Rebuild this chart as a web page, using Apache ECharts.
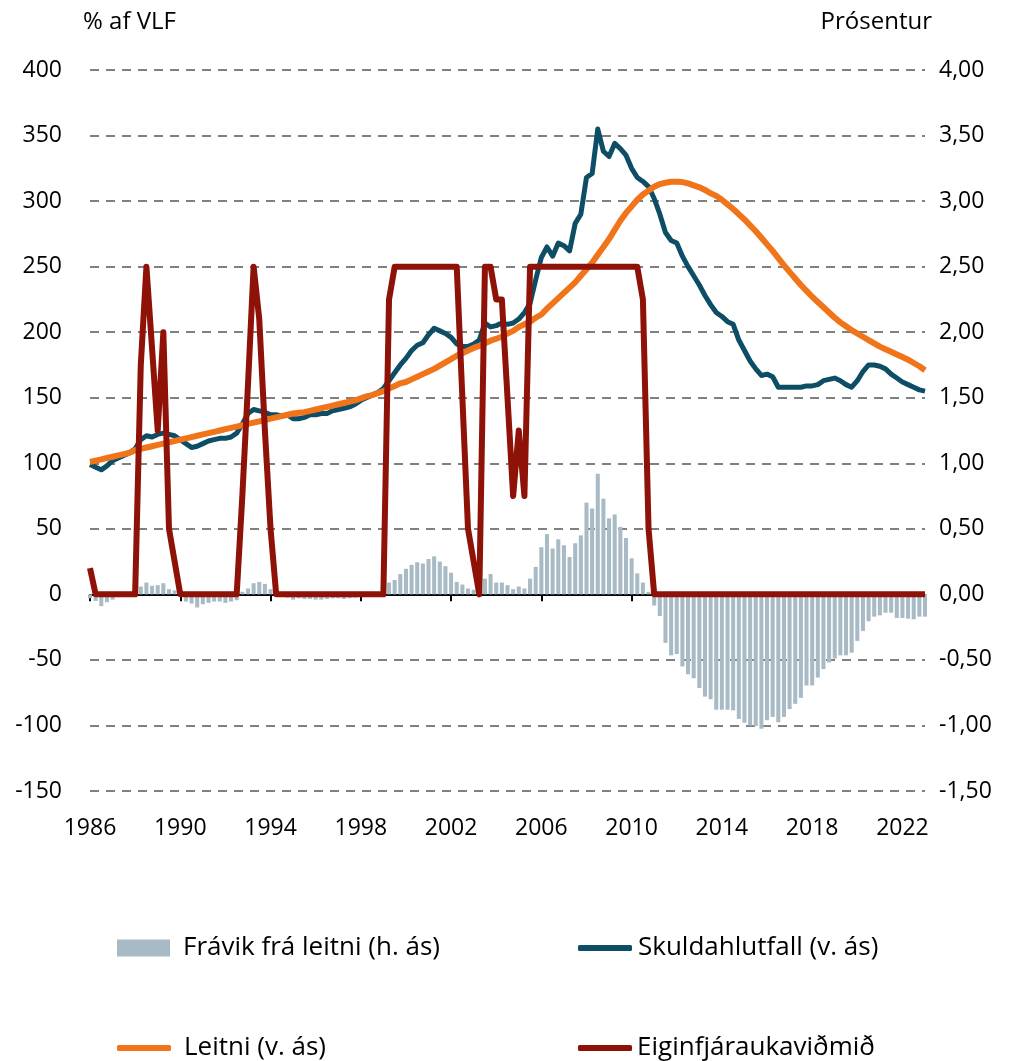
<!DOCTYPE html>
<html>
<head>
<meta charset="utf-8">
<script src="https://cdn.jsdelivr.net/npm/echarts@6/dist/echarts.min.js"></script>
<style>
html,body{margin:0;padding:0;background:#fff;}
#c{width:1017px;height:1061px;}
</style>
</head>
<body>
<div id="c"></div>
<script>
// Quarterly categories 1986Q1 .. 2023Q1
const categories = [];
for (let y = 1986; y <= 2023; y++) { for (let q = 1; q <= 4; q++) { if (categories.length < 149) categories.push(y + 'Q' + q); } }

const yearTickLabels = ['1986','1990','1994','1998','2002','2006','2010','2014','2018','2022'];

// Frávik frá leitni (deviation from trend)
const deviation = [
 -3, -5, -9, -6, -4, -1, 0.5, 2, 4, 6,
 9, 6.5, 7, 8.5, 4, 3, -1, -5.5, -7, -10,
 -7.5, -6.5, -5.5, -5.5, -6.5, -5.5, -4.5, 2, 4.5, 8.5,
 9.5, 8, 4, 1.5, -1, -2.5, -4, -3, -3.5, -3.5,
 -4, -4, -3.5, -3, -3, -3.5, -3, -2.5, -2, -1,
 0.5, 1.5, 3, 9, 11, 15.5, 19.5, 22.5, 24.5, 23.5,
 27, 29, 25, 21.5, 16.5, 9.5, 7.5, 4.5, 3.5, 3,
 12, 15.5, 9, 9, 7, 4, 6, 4.5, 12, 21,
 36, 46, 35, 42, 37.5, 28.5, 39, 45, 70, 65.5,
 92, 73, 58, 61, 51.5, 43, 27.5, 16, 9, 2,
 -8.5, -16.5, -37, -46.5, -45.5, -55, -61, -64, -71.5, -78,
 -80, -88, -88, -88, -88.5, -95, -98, -100, -100.5, -102.5,
 -96, -93.5, -97.5, -93.5, -87.5, -83.5, -79, -69.5, -69.5, -63.5,
 -57, -52, -49, -46.5, -46.5, -44.5, -35.5, -28, -20.5, -17,
 -16, -14, -14, -18, -18, -18.5, -19, -17, -17
];

// Skuldahlutfall (debt ratio, % of GDP)
const debtRatio = [
 99, 97, 95, 98, 102, 104, 106, 108, 111, 118,
 121, 120, 122, 123, 122, 121, 118, 115, 112, 113,
 115, 117, 118, 119, 119, 120, 123, 130, 138, 141,
 140, 139, 137, 137, 136, 137, 134, 134, 135, 137,
 137, 138, 138, 140, 141, 142, 143, 145, 148, 150,
 152, 154, 157, 163, 169, 175, 180, 186, 190, 192,
 198, 203, 201, 199, 196, 191, 189, 189, 191, 194,
 207, 204, 205, 207, 206, 207, 210, 215, 222, 240,
 257, 265, 258, 268, 266, 262, 283, 290, 318, 321,
 355, 338, 334, 344, 340, 335, 325, 318, 315, 311,
 302, 290, 276, 270, 268, 258, 250, 243, 236, 228,
 221, 215, 212, 208, 206, 194, 186, 178, 172, 167,
 168, 166, 158, 158, 158, 158, 158, 159, 159, 160,
 163, 164, 165, 163, 160, 158, 163, 170, 175, 175,
 174, 172, 168, 165, 162, 160, 158, 156, 155
];

// Leitni (trend)
const trend = [
 101, 102, 103, 104, 105, 106, 107, 108, 110, 111,
 112, 113, 114, 115, 116, 117, 118, 119, 120, 121,
 122, 123, 124, 125, 126, 127, 128, 129, 130, 131,
 132, 133, 134, 135, 136, 137, 138, 138.5, 139, 140,
 141, 142, 143, 144, 145, 146, 147, 148, 149.5, 151,
 152, 153.5, 155, 157, 159, 161, 162, 164, 166, 168,
 170, 172, 174.5, 177, 179.5, 182, 184, 186, 188, 189.5,
 191.5, 193.5, 195, 196.5, 199, 201, 204, 206, 208, 211,
 213.5, 218, 222, 226, 230, 234, 238, 243, 248, 253,
 259, 265, 271, 278, 285, 291, 296, 301, 305, 308,
 311, 313, 314, 314.8, 314.8, 314.5, 313.5, 312, 310.5, 308.5,
 306, 304, 301, 297.5, 294, 290, 286, 281.5, 277, 272,
 267, 262, 256.5, 251, 246, 241, 236, 231.5, 227, 223,
 219, 215, 211, 207.5, 204.5, 201.5, 199, 196.5, 194, 191.5,
 189, 187, 185, 183, 181, 179, 176.5, 174, 171
];

// Eiginfjáraukaviðmið (buffer guide, %)
const bufferGuide = [
 0.2, 0, 0, 0, 0, 0, 0, 0, 0, 1.75,
 2.5, 1.875, 1.25, 2.0, 0.5, 0.25, 0, 0, 0, 0,
 0, 0, 0, 0, 0, 0, 0, 0.75, 1.6, 2.5,
 2.1, 1.25, 0.5, 0, 0, 0, 0, 0, 0, 0,
 0, 0, 0, 0, 0, 0, 0, 0, 0, 0,
 0, 0, 0, 2.25, 2.5, 2.5, 2.5, 2.5, 2.5, 2.5,
 2.5, 2.5, 2.5, 2.5, 2.5, 2.5, 1.5, 0.5, 0.25, 0,
 2.5, 2.5, 2.25, 2.25, 1.5, 0.75, 1.25, 0.75, 2.5, 2.5,
 2.5, 2.5, 2.5, 2.5, 2.5, 2.5, 2.5, 2.5, 2.5, 2.5,
 2.5, 2.5, 2.5, 2.5, 2.5, 2.5, 2.5, 2.5, 2.25, 0.5,
 0, 0, 0, 0, 0, 0, 0, 0, 0, 0,
 0, 0, 0, 0, 0, 0, 0, 0, 0, 0,
 0, 0, 0, 0, 0, 0, 0, 0, 0, 0,
 0, 0, 0, 0, 0, 0, 0, 0, 0, 0,
 0, 0, 0, 0, 0, 0, 0, 0, 0
];

const FONT = "'Open Sans', sans-serif";
const FS = 23;      // tick labels
const FS_LEG = 26;  // legend
const FS_TITLE = 24;
const names = ['Frávik frá leitni (h. ás)', 'Skuldahlutfall (v. ás)', 'Leitni (v. ás)', 'Eiginfjáraukaviðmið'];
const colors = { bar: '#a8bbc5', debt: '#0d4d66', trend: '#f07419', buffer: '#8e1208' };

const isYearTick = (i) => i % 16 === 0;

const chart = echarts.init(document.getElementById('c'), null, { renderer: 'canvas' });

const legendBase = (name, left, top, icon, iw, ih, gap) => ({
  data: [name], left: left, top: top, orient: 'horizontal', padding: 0,
  itemWidth: iw, itemHeight: ih, icon: icon,
  textStyle: { fontSize: FS_LEG, color: '#000', fontFamily: FONT, padding: [0, 0, 0, gap] },
  selectedMode: false
});

const option = {
  animation: false,
  backgroundColor: '#fff',
  textStyle: { fontFamily: FONT },
  grid: { left: 90, right: 92, top: 70, bottom: 270, containLabel: false },
  graphic: [
    { type: 'text', left: 83, top: 10, style: { text: '% af VLF', fontSize: FS_TITLE, fill: '#000', fontFamily: FONT } },
    { type: 'text', right: 85, top: 10, style: { text: 'Prósentur', fontSize: FS_TITLE, fill: '#000', fontFamily: FONT } }
  ],
  legend: [
    legendBase(names[0], 117, 935, 'rect', 53, 17, 8),
    legendBase(names[1], 578, 935, 'roundRect', 54, 6, 1),
    legendBase(names[2], 117, 1035, 'roundRect', 54, 6, 8),
    legendBase(names[3], 578, 1035, 'roundRect', 54, 6, 0)
  ],
  xAxis: [
    {
      type: 'category', data: categories, boundaryGap: false,
      axisLine: { onZero: true, lineStyle: { color: '#000', width: 2 } },
      axisTick: { show: true, interval: isYearTick, length: 7, lineStyle: { color: '#000', width: 2 } },
      axisLabel: { show: false },
      splitLine: { show: false }
    },
    {
      type: 'category', data: categories, boundaryGap: false, position: 'bottom',
      axisLine: { show: false, onZero: false },
      axisTick: { show: false },
      axisLabel: {
        interval: isYearTick, margin: 26, fontSize: FS, color: '#000', fontFamily: FONT,
        formatter: (v, i) => yearTickLabels[Math.round(i / 16)] || v.slice(0, 4)
      },
      splitLine: { show: false }
    }
  ],
  yAxis: [
    {
      type: 'value', min: -150, max: 400, interval: 50, position: 'left',
      axisLine: { show: false }, axisTick: { show: false },
      axisLabel: { margin: 28, fontSize: FS, color: '#000', fontFamily: FONT },
      splitLine: { show: true, lineStyle: { color: '#808080', width: 2, type: [9, 7] } }
    },
    {
      type: 'value', min: -1.5, max: 4, interval: 0.5, position: 'right',
      axisLine: { show: false }, axisTick: { show: false },
      axisLabel: { margin: 14, fontSize: FS, color: '#000', fontFamily: FONT,
        formatter: (v) => v.toFixed(2).replace('.', ',') },
      splitLine: { show: false }
    }
  ],
  series: [
    {
      name: names[0], type: 'bar', data: deviation, xAxisIndex: 0, yAxisIndex: 0,
      barWidth: '72%', itemStyle: { color: colors.bar }, z: 2
    },
    {
      name: names[1], type: 'line', data: debtRatio, xAxisIndex: 0, yAxisIndex: 0,
      symbol: 'none', lineStyle: { color: colors.debt, width: 5, join: 'round' }, itemStyle: { color: colors.debt }, z: 3
    },
    {
      name: names[2], type: 'line', data: trend, xAxisIndex: 0, yAxisIndex: 0,
      symbol: 'none', lineStyle: { color: colors.trend, width: 6, join: 'round' }, itemStyle: { color: colors.trend }, z: 4
    },
    {
      name: names[3], type: 'line', data: bufferGuide, xAxisIndex: 0, yAxisIndex: 1,
      symbol: 'none', lineStyle: { color: colors.buffer, width: 6, join: 'round' }, itemStyle: { color: colors.buffer }, z: 5
    }
  ]
};
chart.setOption(option);
</script>
</body>
</html>
